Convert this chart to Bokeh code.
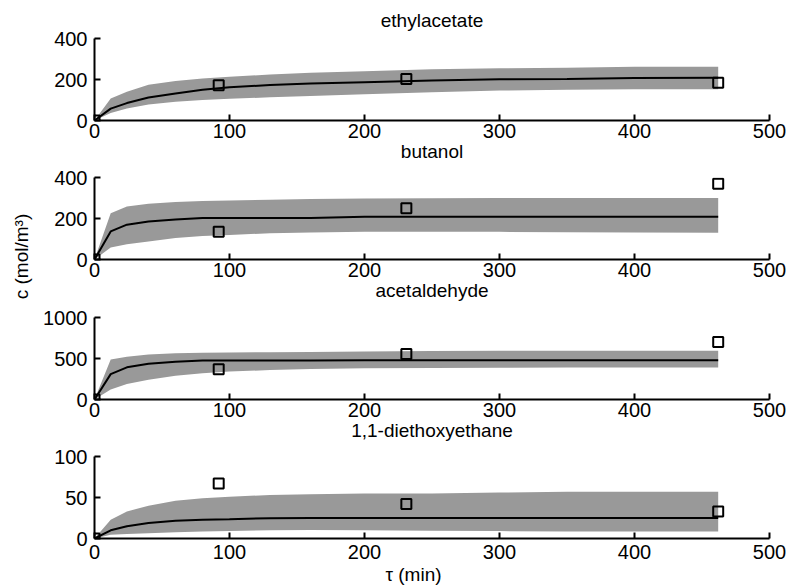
from bokeh.plotting import figure
from bokeh.layouts import row, column
from bokeh.models import FixedTicker, Range1d, Title
from bokeh.embed import file_html
from bokeh.resources import INLINE

# ---------------- data ----------------
t_obs = [0, 92, 231, 462]
t_model = [0, 12, 24, 40, 60, 80, 100, 130, 160, 200, 250, 300, 350, 400, 462]

titles = ["ethylacetate", "butanol", "acetaldehyde", "1,1-diethoxyethane"]
y_max = [400, 400, 1000, 100]
y_ticks = [[0, 200, 400], [0, 200, 400], [0, 500, 1000], [0, 50, 100]]
x_ticks = [0, 100, 200, 300, 400, 500]

ethyl_obs = [0, 172, 203, 184]
ethyl_mean = [0, 58, 85, 112, 132, 150, 162, 173, 180, 187, 195, 201, 202, 207, 209]
ethyl_upper = [0, 107, 140, 175, 193, 205, 213, 224, 233, 240, 250, 255, 257, 262, 262]
ethyl_lower = [0, 36, 58, 78, 92, 100, 106, 113, 119, 128, 138, 146, 150, 152, 152]

butanol_obs = [0, 135, 250, 370]
butanol_mean = [0, 137, 170, 185, 195, 203, 203, 203, 203, 208, 208, 208, 208, 208, 208]
butanol_upper = [0, 226, 258, 272, 280, 285, 288, 292, 295, 297, 299, 300, 300, 300, 300]
butanol_lower = [0, 58, 75, 88, 105, 115, 120, 128, 132, 135, 135, 135, 133, 132, 130]

acet_obs = [0, 370, 555, 700]
acet_mean = [0, 309, 392, 435, 460, 476, 476, 476, 476, 480, 480, 480, 480, 480, 480]
acet_upper = [0, 488, 520, 550, 565, 570, 574, 577, 580, 585, 590, 595, 595, 595, 595]
acet_lower = [0, 122, 190, 240, 290, 320, 340, 360, 372, 380, 385, 388, 390, 390, 390]

dee_obs = [0, 67, 42, 33]
dee_mean = [0, 10, 15, 19, 21.5, 23, 23.5, 24.8, 25, 25, 25, 25, 25, 25, 25]
dee_upper = [0, 23, 33, 40, 46, 49, 51, 53, 54, 55, 55, 56, 57, 57, 57]
dee_lower = [0, 4.5, 5.5, 6.5, 7.7, 8.5, 9, 10, 10.5, 10, 9.5, 9, 8.5, 8.5, 8.5]

series = [
    (ethyl_obs, ethyl_mean, ethyl_upper, ethyl_lower),
    (butanol_obs, butanol_mean, butanol_upper, butanol_lower),
    (acet_obs, acet_mean, acet_upper, acet_lower),
    (dee_obs, dee_mean, dee_upper, dee_lower),
]

FONT = "Liberation Sans"
TICK_FS = "20px"
TITLE_FS = "19px"
BAND = "#999999"

# (top border, bottom border) of each panel figure
borders = [(37, 48), (9, 48), (10, 48), (9, 51)]


def make_title(text, **kw):
    return Title(text=text, align="center", text_font=FONT,
                 text_font_size=TITLE_FS, text_font_style="normal",
                 text_color="black", **kw)


figs = []
for i in range(4):
    obs, mean, upper, lower = series[i]
    top, bottom = borders[i]
    p = figure(frame_width=675, frame_height=82,
               min_border_left=54, min_border_right=20,
               min_border_top=top, min_border_bottom=bottom,
               x_range=Range1d(0, 500), y_range=Range1d(0, y_max[i]),
               output_backend="svg", toolbar_location=None)
    p.outline_line_color = None
    p.xgrid.visible = False
    p.ygrid.visible = False
    p.background_fill_color = "white"
    p.border_fill_color = "white"

    for ax, ticks in ((p.xaxis[0], x_ticks), (p.yaxis[0], y_ticks[i])):
        ax.ticker = FixedTicker(ticks=ticks)
        ax.axis_line_width = 2
        ax.axis_line_color = "black"
        ax.major_tick_line_width = 2
        ax.major_tick_line_color = "black"
        ax.major_tick_in = 6
        ax.major_tick_out = 0
        ax.minor_tick_line_color = None
        ax.major_label_text_font = FONT
        ax.major_label_text_font_size = TICK_FS
        ax.major_label_text_color = "black"
    p.xaxis.major_label_standoff = 3
    p.yaxis.major_label_standoff = 7

    p.varea(x=t_model, y1=lower, y2=upper, fill_color=BAND, fill_alpha=1.0)
    p.line(x=t_model, y=mean, line_color="black", line_width=2)
    p.scatter(x=t_obs, y=obs, marker="square", size=10,
              fill_alpha=0, line_color="black", line_width=2)
    figs.append(p)

# first panel title above its own panel, lifted by its standoff
figs[0].title = make_title(titles[0], standoff=15)

# other panel titles sit in the gap below the previous panel's tick labels
for i in range(1, 4):
    figs[i - 1].add_layout(make_title(titles[i], vertical_align="top", standoff=0), "below")

figs[3].xaxis.major_label_standoff = 6
xl = Title(text="\u03c4 (min)", align="left", offset=291,
           text_font=FONT, text_font_size=TITLE_FS,
           text_font_style="normal", text_color="black", standoff=1)
figs[3].add_layout(xl, "below")

# narrow figure carrying the shared y-axis label
lab = figure(frame_width=9, frame_height=320,
             min_border_left=31, min_border_right=0,
             min_border_top=96, min_border_bottom=172,
             x_range=Range1d(0, 1), y_range=Range1d(0, 1),
             output_backend="svg", toolbar_location=None)
lab.outline_line_color = None
lab.xgrid.visible = False
lab.ygrid.visible = False
lab.xaxis.visible = False
lab.yaxis.ticker = FixedTicker(ticks=[])
lab.yaxis.axis_line_color = None
lab.yaxis.major_tick_line_color = None
lab.yaxis.minor_tick_line_color = None
lab.yaxis.axis_label = "c (mol/m\u00b3)"
lab.yaxis.axis_label_text_font = FONT
lab.yaxis.axis_label_text_font_size = TITLE_FS
lab.yaxis.axis_label_text_font_style = "normal"
lab.yaxis.axis_label_text_color = "black"
lab.yaxis.axis_label_standoff = 0

layout = row(lab, column(*figs, spacing=0), spacing=0)

open("out.html", "w").write(file_html(layout, INLINE))
